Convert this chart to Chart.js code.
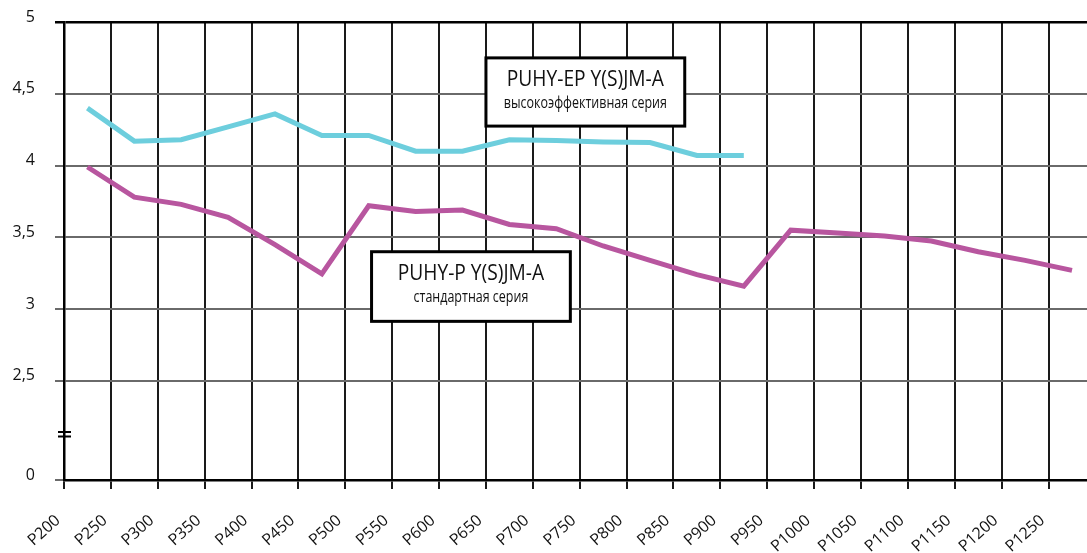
<!DOCTYPE html>
<html><head><meta charset="utf-8">
<script src="https://cdn.jsdelivr.net/npm/chart.js@4.4.1/dist/chart.umd.min.js"></script>
<style>html,body{margin:0;padding:0;background:#fff}#wrap{width:1087px;height:553px;position:relative}</style>
</head><body><div id="wrap"><canvas id="c" width="1087" height="553"></canvas></div>
<script>
// ---- data ----
const xTickValues = [200,250,300,350,400,450,500,550,600,650,700,750,800,850,900,950,1000,1050,1100,1150,1200,1250];
const xTickLabels = ['P200','P250','P300','P350','P400','P450','P500','P550','P600','P650','P700','P750','P800','P850','P900','P950','P1000','P1050','P1100','P1150','P1200','P1250'];
const pointPositions = [225,275,325,375,425,475,525,575,625,675,725,775,825,875,925,975,1025,1075,1125,1175,1225,1275];
const highEffSeries = [4.40,4.17,4.18,4.27,4.36,4.21,4.21,4.10,4.10,4.18,4.175,4.165,4.16,4.07,4.07];
const standardSeries = [3.99,3.78,3.73,3.64,3.45,3.245,3.72,3.68,3.69,3.59,3.56,3.44,3.34,3.24,3.16,3.55,3.53,3.51,3.475,3.40,3.34,3.27];
const yBreakBottom = 1.81;   // value drawn at the "0" tick (broken axis)
const yTickValues = [yBreakBottom,2.5,3,3.5,4,4.5,5];
const yTickLabels = ['0','2,5','3','3,5','4','4,5','5'];
const breakMarkValue = 2.13;
const seriesNames = ['PUHY-EP Y(S)JM-A','PUHY-P Y(S)JM-A'];
const seriesSubtitles = ['высокоэффективная серия','стандартная серия'];

// annotation boxes (in data coordinates)
const labelBoxes = [
  {x0:650, x1:862, yTop:4.75, yBottom:4.275, title:seriesNames[0], subtitle:seriesSubtitles[0]},
  {x0:528, x1:740, yTop:3.40, yBottom:2.915, title:seriesNames[1], subtitle:seriesSubtitles[1]}
];

const toPoints = (vals) => vals.map((v,i)=>({x:pointPositions[i], y:v}));

const annotationPlugin = {
  id:'annot',
  afterDatasetsDraw(chart){
    const {ctx, scales:{x,y}} = chart;
    ctx.save();
    labelBoxes.forEach(b=>{
      const l = x.getPixelForValue(b.x0), r = x.getPixelForValue(b.x1);
      const t = y.getPixelForValue(b.yTop), btm = y.getPixelForValue(b.yBottom);
      ctx.fillStyle='#fff';
      ctx.fillRect(l,t,r-l,btm-t);
      ctx.lineWidth=3; ctx.strokeStyle='#000';
      ctx.strokeRect(l,t,r-l,btm-t);
      const cx=(l+r)/2, h=btm-t;
      ctx.fillStyle='#111';
      ctx.textAlign='center'; ctx.textBaseline='middle';
      ctx.font='20px "Open Sans", sans-serif';
      ctx.save();
      ctx.translate(cx,t+h*0.32); ctx.scale(0.96,1.08);
      ctx.fillText(b.title,0,0);
      ctx.restore();
      ctx.font='16px "Open Sans", sans-serif';
      ctx.save();
      ctx.translate(cx,t+h*0.66); ctx.scale(0.78,1.05);
      ctx.fillText(b.subtitle,0,0);
      ctx.restore();
    });
    // axis break mark
    const by = y.getPixelForValue(breakMarkValue);
    const ax = x.left;
    ctx.strokeStyle='#000'; ctx.lineWidth=2;
    ctx.beginPath();
    ctx.moveTo(ax-6,by-2); ctx.lineTo(ax+7,by-2);
    ctx.moveTo(ax-6,by+2.5); ctx.lineTo(ax+7,by+2.5);
    ctx.stroke();
    ctx.restore();
  }
};

new Chart(document.getElementById('c'),{
  type:'line',
  data:{datasets:[
    {label:seriesNames[0], data:toPoints(highEffSeries), borderColor:'#6dcedd', borderWidth:5, pointRadius:0, tension:0, fill:false},
    {label:seriesNames[1], data:toPoints(standardSeries), borderColor:'#b8569f', borderWidth:5, pointRadius:0, tension:0, fill:false}
  ]},
  options:{
    responsive:false, animation:false, devicePixelRatio:1,
    layout:{padding:{top:22,left:0,right:0,bottom:0}},
    plugins:{legend:{display:false}, tooltip:{enabled:false}},
    scales:{
      x:{type:'linear', min:200, max:1291,
        afterBuildTicks(s){ s.ticks = xTickValues.map(v=>({value:v})); },
        afterFit(s){ s.height = 73; s.paddingLeft = 0; s.paddingRight = 0; },
        ticks:{autoSkip:false, minRotation:42, maxRotation:42, padding:22, labelOffset:-6,
          color:'#111', font:{family:'"Open Sans", sans-serif', size:16},
          callback:(v,i)=>xTickLabels[i]},
        grid:{color:'#1a1a1a', lineWidth:2, tickLength:9},
        border:{display:true, color:'#000', width:2.5}
      },
      y:{type:'linear', min:yBreakBottom, max:5,
        afterBuildTicks(s){ s.ticks = yTickValues.map(v=>({value:v})); },
        afterFit(s){ s.width = 64; s.paddingTop = 0; s.paddingBottom = 0; },
        ticks:{padding:20, labelOffset:-5, color:'#111',
          font:{family:'"Open Sans", sans-serif', size:16},
          callback:(v,i)=>yTickLabels[i]},
        grid:{color:(c)=> (c.tick && c.tick.value===5) ? '#000' : '#6a6a6a',
              lineWidth:(c)=> (c.tick && c.tick.value===5) ? 2.5 : 2, tickLength:9},
        border:{display:true, color:'#000', width:2.5}
      }
    }
  },
  plugins:[annotationPlugin]
});
</script></body></html>
